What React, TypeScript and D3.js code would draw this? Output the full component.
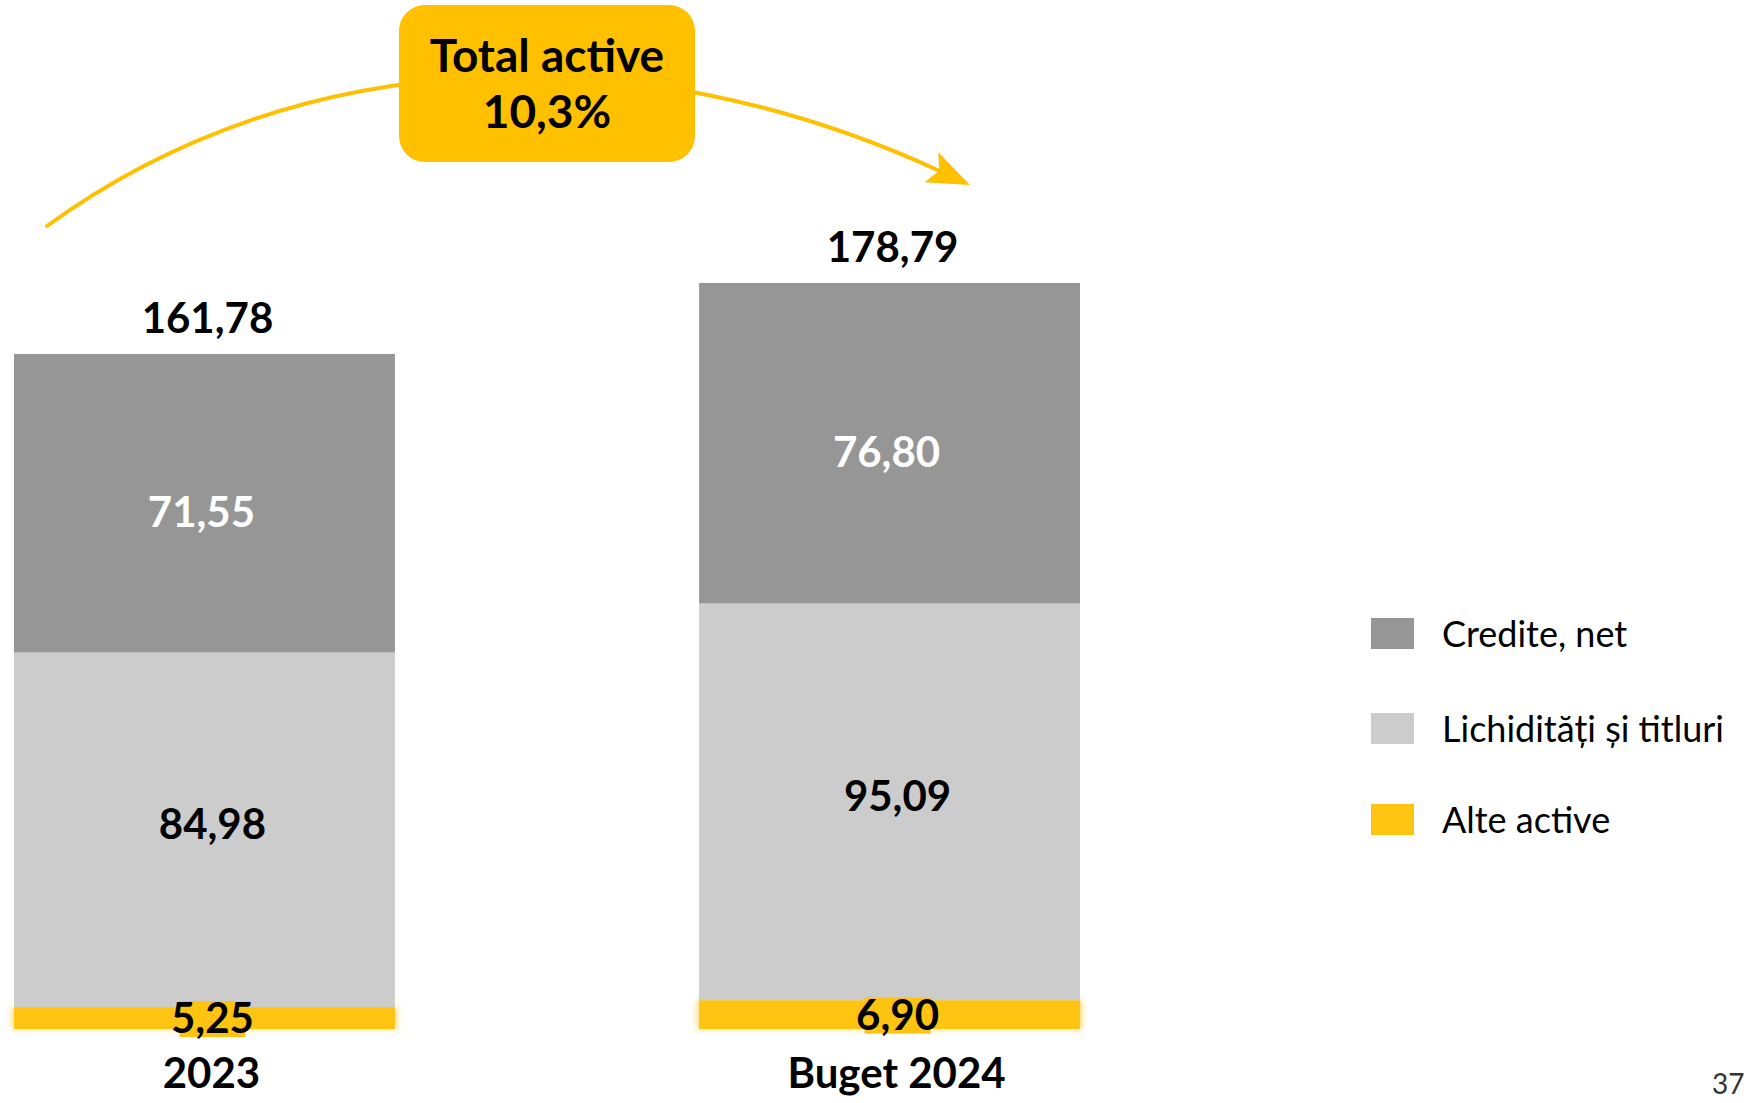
import React from "react";
import * as d3 from "d3";

// values (mld. lei)
const categories = ["2023", "Buget 2024"];
const credite = [71.55, 76.8];
const lichiditati = [84.98, 95.09];
const alteActive = [5.25, 6.9];
const totals = [161.78, 178.79];
const seriesNames = ["Credite, net", "Lichidități și titluri", "Alte active"];
const seriesKeys = ["alte", "lichiditati", "credite"];
const growthText = ["Total active", "10,3%"];
const pageNumber = "37";

const W = 1749;
const H = 1103;
const FONT = "Lato, 'Noto Sans', sans-serif";

const colors: Record<string, string> = {
  credite: "#969696",
  lichiditati: "#cccccc",
  alte: "#ffc312",
};
const labelColors: Record<string, string> = {
  credite: "#ffffff",
  lichiditati: "#000000",
  alte: "#000000",
};
// small nudges of the labels inside the segments, like the original slide
const labelShift: Record<string, [number, number]> = {
  credite: [-3, 9],
  lichiditati: [8, -6],
  alte: [8, 0],
};

const ro = d3.formatLocale({
  decimal: ",",
  thousands: ".",
  grouping: [3],
  currency: ["", " lei"],
});
const fmt = ro.format(".2f");

const rows = categories.map((c, i) => ({
  cat: c,
  credite: credite[i],
  lichiditati: lichiditati[i],
  alte: alteActive[i],
}));

export default function App() {
  const baseY = 1029;
  const y = d3.scaleLinear().domain([0, d3.max(totals)!]).range([baseY, 283]);
  const x = d3
    .scaleBand()
    .domain(categories)
    .range([14, 1080])
    .paddingInner(0.444)
    .paddingOuter(0);

  const stacked = d3.stack<any>().keys(seriesKeys)(rows);

  // growth arrow
  const ang = Math.atan2(0.419, 0.908);
  const tip = [970, 185];
  const end = [tip[0] - 34 * Math.cos(ang), tip[1] - 34 * Math.sin(ang)];
  const arc = d3.path();
  arc.moveTo(47, 226);
  arc.bezierCurveTo(299, 42, end[0] - 330 * Math.cos(ang), end[1] - 330 * Math.sin(ang), end[0], end[1]);
  const head = [
    [0, 0],
    [-42.5, -16.5],
    [-34, 0],
    [-42.5, 16.5],
  ].map(([px, py]) => [
    tip[0] + px * Math.cos(ang) - py * Math.sin(ang),
    tip[1] + px * Math.sin(ang) + py * Math.cos(ang),
  ]);

  const legendY = [618, 713, 804];
  const legendColors = [colors.credite, colors.lichiditati, colors.alte];

  return (
    <svg
      width={W}
      height={H}
      style={{ position: "absolute", left: 0, top: 0, background: "#fff" }}
      fontFamily={FONT}
    >
      <defs>
        <filter id="glow" x="-10%" y="-100%" width="120%" height="300%">
          <feGaussianBlur stdDeviation="3" />
        </filter>
      </defs>

      {/* arc + arrow */}
      <path d={arc.toString()} fill="none" stroke="#ffc000" strokeWidth={4} strokeLinecap="round" />
      <polygon points={head.map((p) => p.join(",")).join(" ")} fill="#ffc000" />

      {/* growth box */}
      <rect x={399} y={5} width={296} height={157} rx={26} fill="#ffc000" />
      <text x={547} y={72} textAnchor="middle" fontSize={46} fontWeight={700} fill="#000">
        {growthText[0]}
      </text>
      <text x={547} y={128} textAnchor="middle" fontSize={46} fontWeight={700} fill="#000">
        {growthText[1]}
      </text>

      {/* stacked bars */}
      {stacked.map((s) => (
        <g key={s.key}>
          {s.map((d, i) => {
            const bx = x(categories[i])!;
            const y0 = y(d[1]);
            const h = y(d[0]) - y(d[1]);
            return (
              <g key={i}>
                {s.key === "alte" && (
                  <rect x={bx - 2} y={y0} width={x.bandwidth() + 4} height={h} fill={colors.alte} opacity={0.6} filter="url(#glow)" />
                )}
                <rect x={bx} y={y0} width={x.bandwidth()} height={h} fill={colors[s.key]} />
              </g>
            );
          })}
        </g>
      ))}

      {/* segment labels */}
      {stacked.map((s) => (
        <g key={"l" + s.key}>
          {s.map((d, i) => {
            const [dx, dy] = labelShift[s.key];
            const cx = x(categories[i])! + x.bandwidth() / 2 + dx;
            const cy = (y(d[0]) + y(d[1])) / 2 + dy;
            const v = d[1] - d[0];
            return (
              <g key={i}>
                {s.key === "alte" && (
                  <rect x={cx - 33} y={cy - 17} width={66} height={36} fill={colors.alte} />
                )}
                <text
                  x={cx}
                  y={cy + 15}
                  textAnchor="middle"
                  fontSize={42}
                  fontWeight={700}
                  fill={labelColors[s.key]}
                >
                  {fmt(v)}
                </text>
              </g>
            );
          })}
        </g>
      ))}

      {/* totals */}
      {totals.map((t, i) => (
        <text
          key={"t" + i}
          x={x(categories[i])! + x.bandwidth() / 2 + 3}
          y={y(t) - 21}
          textAnchor="middle"
          fontSize={42}
          fontWeight={700}
          fill="#000"
        >
          {fmt(t)}
        </text>
      ))}

      {/* category labels */}
      {categories.map((c) => (
        <text
          key={c}
          x={x(c)! + x.bandwidth() / 2 + 7}
          y={baseY + 59}
          textAnchor="middle"
          fontSize={42}
          fontWeight={700}
          fill="#000"
        >
          {c}
        </text>
      ))}

      {/* legend */}
      {seriesNames.map((n, i) => (
        <g key={n}>
          <rect x={1371} y={legendY[i]} width={43} height={31} fill={legendColors[i]} />
          <text x={1442} y={legendY[i] + 29} fontSize={36} fill="#000">
            {n}
          </text>
        </g>
      ))}

      <text x={1712} y={1094} fontSize={28} fill="#333">
        {pageNumber}
      </text>
    </svg>
  );
}
